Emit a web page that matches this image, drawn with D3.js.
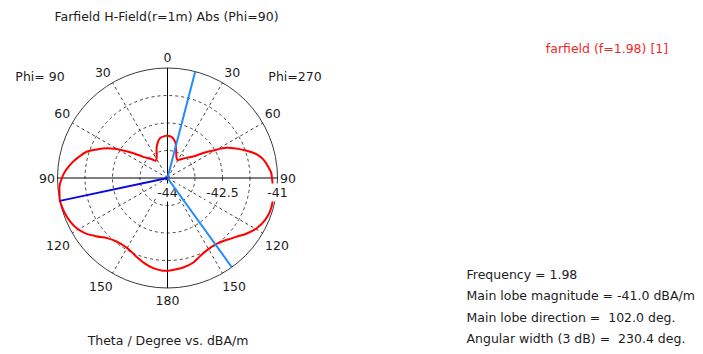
<!DOCTYPE html>
<html>
<head>
<meta charset="utf-8">
<script src="https://cdn.jsdelivr.net/npm/d3@7"></script>
<style>
  html, body { margin: 0; padding: 0; background: #fff; }
  svg { display: block; }
  text { font-family: "DejaVu Sans", Verdana, sans-serif; font-size: 12.5px; fill: #1c1c1c; }
</style>
</head>
<body>
<svg id="chart" width="703" height="354"></svg>
<script>
// Farfield cut, Phi=270 half (drawn on the right), theta in degrees
const thetaPhi270 = [0, 6, 12, 17, 25, 29, 34, 42, 50, 55, 59, 63, 67, 71, 75, 79, 84, 87, 90,
  97, 103, 108, 113, 119, 125, 130, 136, 143, 151, 158, 163, 170, 176, 180];
const valuesPhi270 = [-42.85, -42.88, -42.99, -43.20, -43.41, -43.44, -43.39, -43.27, -43.09, -42.81,
  -42.54, -42.19, -41.95, -41.71, -41.49, -41.34, -41.23, -41.17, -41.15, -41.10, -41.06, -41.06,
  -41.10, -41.20, -41.36, -41.52, -41.66, -41.76, -41.76, -41.68, -41.59, -41.52, -41.49, -41.47];

// Phi=90 half (drawn on the left)
const thetaPhi90 = [3, 11, 19, 27, 34, 40, 49, 54, 58, 61, 64, 68, 72, 77, 81, 85, 88, 90, 94, 99,
  102, 104, 109, 114, 119, 124, 129, 135, 144, 151, 158, 165, 171, 177];
const valuesPhi90 = [-42.85, -42.90, -43.10, -43.35, -43.43, -43.33, -43.12, -42.85, -42.58, -42.36,
  -42.15, -41.92, -41.68, -41.50, -41.36, -41.24, -41.16, -41.12, -41.05, -41.02, -41.00, -41.01,
  -41.04, -41.09, -41.17, -41.30, -41.48, -41.68, -41.80, -41.79, -41.70, -41.59, -41.51, -41.47];

// Radial axis (dBA/m)
const radialDomain = [-44, -41];
const ringValues = [-43.25, -42.5, -41.75];
const radialLabels = [-44, -42.5, -41];

// Angular tick labels (theta, degrees)
const angleTicks = [0, 30, 60, 90, 120, 150, 180];
const spokeAngles = [30, 60, 120, 150];

// Main lobe and 3 dB beam edges
const mainLobeDirection = 102.0;   // theta on the Phi=90 side
const mainLobeMagnitude = -41.0;
const beamEdges = [14.6, 144.2];   // theta on the Phi=270 side
const frequency = 1.98;
const angularWidth = 230.4;

const titleText = "Farfield H-Field(r=1m) Abs (Phi=90)";
const axisTitle = "Theta / Degree vs. dBA/m";
const legendText = "farfield (f=1.98) [1]";
const infoLines = [
  "Frequency = " + frequency,
  "Main lobe magnitude = " + mainLobeMagnitude.toFixed(1) + " dBA/m",
  "Main lobe direction =  " + mainLobeDirection.toFixed(1) + " deg.",
  "Angular width (3 dB) =  " + angularWidth.toFixed(1) + " deg."
];

const svg = d3.select("#chart");
const cx = 167.5, cy = 178, R = 110;
const rad = d3.scaleLinear().domain(radialDomain).range([0, R]).clamp(true);
const toRad = d => d * Math.PI / 180;
// screen angle: clockwise from top; Phi=90 side mirrored to the left
const rightAngle = t => toRad(t);
const leftAngle = t => toRad(360 - t);
const pt = (a, r) => [cx + r * Math.sin(a), cy - r * Math.cos(a)];

const g = svg.append("g");

// dashed rings
g.selectAll("circle.ring").data(ringValues).join("circle")
  .attr("cx", cx).attr("cy", cy).attr("r", d => rad(d))
  .attr("fill", "none").attr("stroke", "#444").attr("stroke-width", 1)
  .attr("stroke-dasharray", "3,3");

// dashed spokes on both halves
const spokes = spokeAngles.flatMap(t => [rightAngle(t), leftAngle(t)]);
g.selectAll("line.spoke").data(spokes).join("line")
  .attr("x1", cx).attr("y1", cy)
  .attr("x2", a => pt(a, R)[0]).attr("y2", a => pt(a, R)[1])
  .attr("stroke", "#444").attr("stroke-width", 1).attr("stroke-dasharray", "3,3");

// outer circle
g.append("circle").attr("cx", cx).attr("cy", cy).attr("r", R)
  .attr("fill", "none").attr("stroke", "#3a3a3a").attr("stroke-width", 1);

// solid axes
g.append("line").attr("x1", cx - R).attr("y1", cy).attr("x2", cx + R).attr("y2", cy)
  .attr("stroke", "#000").attr("stroke-width", 1);
g.append("line").attr("x1", cx).attr("y1", cy - R).attr("x2", cx).attr("y2", cy + R)
  .attr("stroke", "#000").attr("stroke-width", 1);

// pattern curve
const pattern = thetaPhi270.map((t, i) => [rightAngle(t), rad(valuesPhi270[i])])
  .concat(thetaPhi90.map((t, i) => [leftAngle(t), rad(valuesPhi90[i])]).reverse());
const radial = d3.lineRadial().angle(d => d[0]).radius(d => d[1])
  .curve(d3.curveCatmullRomClosed.alpha(0.5));
g.append("path").attr("transform", `translate(${cx},${cy})`)
  .attr("d", radial(pattern))
  .attr("fill", "none").attr("stroke", "#ff0000").attr("stroke-width", 2);

// radial value labels with white backing
const rl = g.selectAll("g.rlab").data(radialLabels).join("g")
  .attr("transform", d => `translate(${cx + rad(d)},${cy + 19})`);
rl.append("text").attr("text-anchor", "middle").text(d => d);
rl.each(function () {
  const grp = d3.select(this);
  const bb = grp.select("text").node().getBBox();
  grp.insert("rect", "text").attr("x", bb.x - 1).attr("y", bb.y - 1.5)
    .attr("width", bb.width + 2).attr("height", bb.height + 3).attr("fill", "#fff");
});

// beam edges and main lobe
g.selectAll("line.edge").data(beamEdges).join("line")
  .attr("x1", cx).attr("y1", cy)
  .attr("x2", t => pt(rightAngle(t), rad(radialDomain[1]))[0])
  .attr("y2", t => pt(rightAngle(t), rad(radialDomain[1]))[1])
  .attr("stroke", "#1e8cff").attr("stroke-width", 2);
const mainEnd = pt(leftAngle(mainLobeDirection), rad(mainLobeMagnitude));
g.append("line").attr("x1", cx).attr("y1", cy).attr("x2", mainEnd[0]).attr("y2", mainEnd[1])
  .attr("stroke", "#0a0ae0").attr("stroke-width", 2);

// angular tick labels on both halves
const angleLabels = [];
angleTicks.forEach(t => {
  angleLabels.push({ t, side: 1 });
  if (t !== 0 && t !== 180) angleLabels.push({ t, side: -1 });
});
g.selectAll("text.alab").data(angleLabels).join("text")
  .attr("text-anchor", "middle")
  .text(d => d.t)
  .each(function (d) {
    const a = toRad(d.t);
    const nudged = a + toRad(1.8 * Math.sin(4 * a));
    const wide = String(d.t).length > 2 ? 2 + 3.5 * Math.abs(Math.sin(a)) : 0;
    const r = 120.5 + 3.5 * Math.abs(Math.sin(2 * a)) + wide;
    d3.select(this)
      .attr("x", cx + d.side * r * Math.sin(nudged))
      .attr("y", cy - r * Math.cos(nudged) + 4.5);
  });

// half labels
svg.append("text").attr("x", 40).attr("y", 81).attr("text-anchor", "middle").text("Phi= 90");
svg.append("text").attr("x", 295).attr("y", 81).attr("text-anchor", "middle").text("Phi=270");

// titles
svg.append("text").attr("x", 166.5).attr("y", 21).attr("text-anchor", "middle").text(titleText);
svg.append("text").attr("x", 168).attr("y", 345).attr("text-anchor", "middle").text(axisTitle);
svg.append("text").attr("x", 607).attr("y", 53).attr("text-anchor", "middle")
  .style("fill", "#f02828").text(legendText);

// summary block
svg.selectAll("text.info").data(infoLines).join("text")
  .attr("x", 466.5).attr("y", (d, i) => 279 + i * 21.4)
  .style("white-space", "pre").attr("xml:space", "preserve")
  .text(d => d);
</script>
</body>
</html>
